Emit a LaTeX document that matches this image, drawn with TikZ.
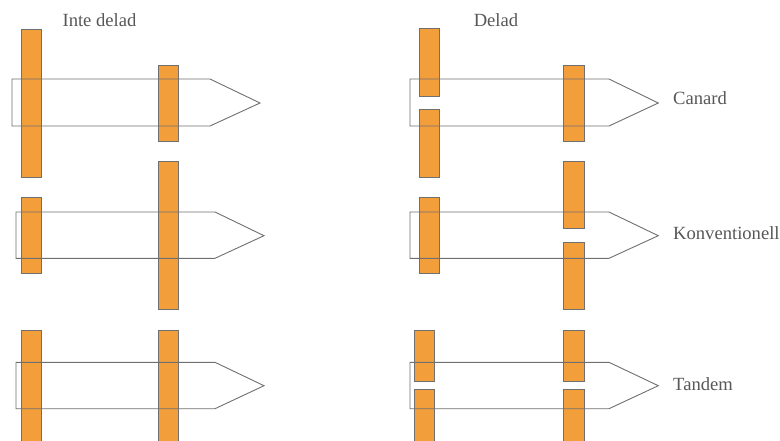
\documentclass[tikz,border=0pt]{standalone}
\usepackage{fontspec}
\setmainfont{Liberation Serif}
\definecolor{wingfill}{RGB}{242,158,58}
\definecolor{edgegray}{RGB}{112,112,112}
\definecolor{textgray}{RGB}{88,88,88}
\begin{document}
\begin{tikzpicture}[x=1pt,y=-1pt,
  wing/.style={fill=wingfill,draw=edgegray,line width=0.9pt},
  body/.style={draw=edgegray,line width=0.9pt,line join=miter},
  label/.style={text=textgray,font=\fontsize{18.6}{21}\selectfont,inner sep=0pt,anchor=base west}]
\clip (0,0) rectangle (780,440);
\fill[white] (0,0) rectangle (780,440);
% column headings
\node[label,anchor=base] (hundivided) at (99.5,26) {Inte delad};
\node[label,anchor=base] (hdivided) at (496,26) {Delad};
% ---- left column: undivided wings ----
% canard
\draw[wing] (21,29) rectangle (41,177);
\draw[wing] (158,65) rectangle (178.7,141);
\draw[body] (12,79) -- (210,79) -- (260,103) -- (210,126) -- (12,126) -- cycle;
% conventional
\draw[wing] (21,197.7) rectangle (41,273.3);
\draw[wing] (158,161.3) rectangle (178.7,309.3);
\draw[body] (16,212) -- (215,212) -- (264,235.7) -- (215,258.3) -- (16,258.3) -- cycle;
% tandem
\draw[wing] (21,330) rectangle (41,460);
\draw[wing] (158,330) rectangle (178.7,460);
\draw[body] (16,362.3) -- (215,362.3) -- (264,385.7) -- (215,408.7) -- (16,408.7) -- cycle;
% ---- right column: divided wings ----
% canard
\draw[wing] (419,28.7) rectangle (439.3,96);
\draw[wing] (419,109.7) rectangle (439.3,177);
\draw[wing] (563.3,65) rectangle (584,141);
\draw[body] (410,79) -- (609,79) -- (658.3,103) -- (609,126) -- (410,126) -- cycle;
% conventional
\draw[wing] (419,197.7) rectangle (439.3,273.3);
\draw[wing] (563.3,161.3) rectangle (584,228.3);
\draw[wing] (563.3,242.7) rectangle (584,309.3);
\draw[body] (410,212) -- (609,212) -- (658.3,235.7) -- (609,258.3) -- (410,258.3) -- cycle;
% tandem
\draw[wing] (414.3,330) rectangle (434.7,381.7);
\draw[wing] (414.3,389.7) rectangle (434.7,460);
\draw[wing] (563.3,330) rectangle (584,381.7);
\draw[wing] (563.3,389.7) rectangle (584,460);
\draw[body] (410,362.3) -- (609,362.3) -- (658.3,385.7) -- (609,408.7) -- (410,408.7) -- cycle;
% row labels
\node[label] (lcanard) at (673,104) {Canard};
\node[label] (lconv) at (673,239.3) {Konventionell};
\node[label] (ltandem) at (673,390) {Tandem};
\end{tikzpicture}
\end{document}
